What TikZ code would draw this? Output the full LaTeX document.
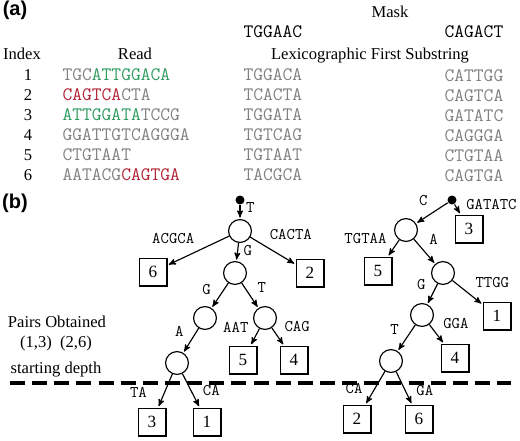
\documentclass[tikz,border=0pt]{standalone}
\usepackage{fontspec}
\setmainfont{Liberation Serif}
\setsansfont{Liberation Sans}
\usetikzlibrary{arrows,positioning}

\definecolor{seqgreen}{RGB}{46,155,95}
\definecolor{seqred}{RGB}{178,34,52}
\definecolor{seqgray}{RGB}{128,128,128}

\newcommand{\seqfont}{\ttfamily\fontsize{13.3}{15}\selectfont}
\newcommand{\edgefont}{\ttfamily\fontsize{11.4}{13}\selectfont}
\newcommand{\hdrfont}{\fontsize{11.6}{14}\selectfont}

\begin{document}
\begin{tikzpicture}[x=0.7pt,y=-0.7pt,>=stealth',shorten >=1pt,thick,
                    vert/.style={circle,draw,minimum size=16pt,inner sep=0pt},
                    leaf/.style={rectangle,draw,minimum size=19.5pt,inner sep=0pt,
                                 font=\fontsize{12}{14}\selectfont},
                    rootdot/.style={circle,fill,minimum size=6.3pt,inner sep=0pt},
                    lbl/.style={font=\edgefont,inner sep=3.8pt},
                    hdr/.style={font=\hdrfont,inner sep=0pt,anchor=base},
                    seq/.style={font=\seqfont,text=seqgray,anchor=base west,inner sep=0pt},
                    panel/.style={font=\sffamily\bfseries\fontsize{14}{16}\selectfont,inner sep=0pt},
                    depthline/.style={line width=2.2pt,dash pattern=on 10.5pt off 5pt}]

  \useasboundingbox (0,0) rectangle (520,440);

  % (a) table
  \node[panel]          (pa)    at (15,10)  {(a)};
  \node[hdr]            (mask)  at (390,17) {Mask};
  \node[seq,text=black] (mask1) at (243,37) {TGGAAC};
  \node[seq,text=black] (mask2) at (444,37) {CAGACT};
  \node[hdr]            (hidx)  at (22,59)  {Index};
  \node[hdr]            (hread) at (135,59) {Read};
  \node[hdr]            (hlex)  at (370,59) {Lexicographic First Substring};

  \node[hdr] (i1) at (28,80)  {1};
  \node[hdr] (i2) at (28,100) {2};
  \node[hdr] (i3) at (28,120) {3};
  \node[hdr] (i4) at (28,140) {4};
  \node[hdr] (i5) at (28,160) {5};
  \node[hdr] (i6) at (28,180) {6};

  \node[seq] (rd1) at (62,80)  {TGC\textcolor{seqgreen}{ATTGGACA}};
  \node[seq] (rd2) at (62,100) {\textcolor{seqred}{CAGTCA}CTA};
  \node[seq] (rd3) at (62,120) {\textcolor{seqgreen}{ATTGGATA}TCCG};
  \node[seq] (rd4) at (62,140) {GGATTGTCAGGGA};
  \node[seq] (rd5) at (62,160) {CTGTAAT};
  \node[seq] (rd6) at (62,180) {AATACG\textcolor{seqred}{CAGTGA}};

  \node[seq] (sa1) at (243,80)  {TGGACA};
  \node[seq] (sa2) at (243,100) {TCACTA};
  \node[seq] (sa3) at (243,120) {TGGATA};
  \node[seq] (sa4) at (243,140) {TGTCAG};
  \node[seq] (sa5) at (243,160) {TGTAAT};
  \node[seq] (sa6) at (243,180) {TACGCA};

  \node[seq] (sb1) at (444,81)  {CATTGG};
  \node[seq] (sb2) at (444,101) {CAGTCA};
  \node[seq] (sb3) at (444,121) {GATATC};
  \node[seq] (sb4) at (444,141) {CAGGGA};
  \node[seq] (sb5) at (444,161) {CTGTAA};
  \node[seq] (sb6) at (444,181) {CAGTGA};

  % (b) trees
  \node[panel] (pb) at (15,203) {(b)};

  \node[rootdot] (l0) at (240,200) {};
  \node[vert]    (l1) at (240,231) {};
  \node[leaf]    (b6) at (153,272) {6};
  \node[leaf]    (b2) at (310,273) {2};
  \node[vert]    (l2) at (235,273) {};
  \node[vert]    (l3) at (205,318) {};
  \node[vert]    (l4) at (265,318) {};
  \node[leaf]    (b5) at (243,360) {5};
  \node[leaf]    (b4) at (294,360) {4};
  \node[vert]    (l5) at (177,363) {};
  \node[leaf]    (b3) at (152,422) {3};
  \node[leaf]    (b1) at (207,422) {1};

  \node[rootdot] (r0) at (452,200) {};
  \node[leaf]    (c3) at (469,229) {3};
  \node[vert]    (r1) at (406,230) {};
  \node[leaf]    (c5) at (378,271) {5};
  \node[vert]    (r2) at (443,273) {};
  \node[leaf]    (c1) at (497,316) {1};
  \node[vert]    (r3) at (422,315) {};
  \node[leaf]    (c4) at (455,358) {4};
  \node[vert]    (r4) at (391,361) {};
  \node[leaf]    (c2) at (357,419) {2};
  \node[leaf]    (c6) at (419,419) {6};

  \node[hdr] (pairs)    at (57,327) {Pairs Obtained};
  \node[hdr] (pairlist) at (56,347) {(1,3)~~(2,6)};
  \node[hdr] (startd)   at (56,373) {starting depth};

  \coordinate (dl) at (10,383);
  \coordinate (dr) at (512,383);
  \draw[depthline] (dl) -- (dr);

  \path[->] (l0) edge node[lbl,pos=0.2,right]          {T}     (l1)
            (l1) edge node[lbl,pos=0.47,above left]    {ACGCA} (b6)
                 edge node[lbl,pos=0.3,above right]    {CACTA} (b2)
                 edge node[lbl,pos=0.4,right]          {G}     (l2)
            (l2) edge node[lbl,pos=0.7,above left]     {G}     (l3)
                 edge node[lbl,pos=0.6,above right]    {T}     (l4)
            (l3) edge node[lbl,pos=0.6,above left]     {A}     (l5)
            (l4) edge node[lbl,pos=0.57,above left]    {AAT}   (b5)
                 edge node[lbl,pos=0.55,above right]   {CAG}   (b4)
            (l5) edge node[lbl,pos=0.87,above left,xshift=-5pt] {TA} (b3)
                 edge node[lbl,pos=0.84,above right]   {CA}    (b1);

  \path[->] (r0) edge node[lbl,pos=0,right=4pt]        {GATATC} (c3)
                 edge node[lbl,pos=0.45,above left]    {C}     (r1)
            (r1) edge node[lbl,pos=0.6,above left]     {TGTAA} (c5)
                 edge node[lbl,pos=0.45,above right]   {A}     (r2)
            (r2) edge node[lbl,pos=0.57,above right]   {TTGG}  (c1)
                 edge node[lbl,pos=0.6,above left]     {G}     (r3)
            (r3) edge node[lbl,pos=0.55,above right]   {GGA}   (c4)
                 edge node[lbl,pos=0.6,above left]     {T}     (r4)
            (r4) edge node[lbl,pos=0.85,above left]    {CA}    (c2)
                 edge node[lbl,pos=0.9,above right]    {GA}    (c6);
\end{tikzpicture}
\end{document}
